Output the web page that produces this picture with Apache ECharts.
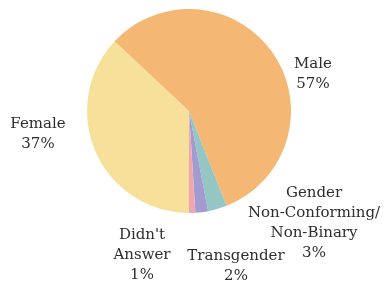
<!DOCTYPE html>
<html>
<head>
<meta charset="utf-8">
<script src="https://cdn.jsdelivr.net/npm/echarts@6/dist/echarts.min.js"></script>
<style>
  html, body { margin: 0; padding: 0; background: #fff; }
  #chart { width: 385px; height: 284px; }
</style>
</head>
<body>
<div id="chart"></div>
<script>
// slices, clockwise from the bottom
const categories = ["Female", "Male", "Gender\nNon-Conforming/\nNon-Binary", "Transgender", "Didn't\nAnswer"];
const values = [37, 57, 3, 2, 1];
const colors = ["#f7e19a", "#f4b774", "#95c6c3", "#a29bd0", "#f1a5b1"];

// where each label block is centred (layout only)
const labelSpots = [
  [38, 134],
  [313, 74],
  [314, 223],
  [236, 266],
  [142, 255]
];

const chart = echarts.init(document.getElementById("chart"));
chart.setOption({
  backgroundColor: "#fff",
  animation: false,
  series: [
    {
      type: "pie",
      center: [189, 111],
      radius: 102,
      startAngle: -90,
      clockwise: true,
      avoidLabelOverlap: false,
      data: categories.map((name, i) => ({
        name: name,
        value: values[i],
        itemStyle: { color: colors[i] }
      })),
      itemStyle: { borderWidth: 0 },
      label: {
        show: true,
        position: "outside",
        formatter: "{b}\n{d}%",
        fontFamily: "DejaVu Serif",
        fontSize: 15,
        lineHeight: 20,
        color: "#2e2e2e",
        align: "center"
      },
      labelLine: { show: false },
      labelLayout: function (params) {
        const p = labelSpots[params.dataIndex];
        return { x: p[0], y: p[1], align: "center", verticalAlign: "middle" };
      },
      emphasis: { disabled: true }
    }
  ]
});
</script>
</body>
</html>
